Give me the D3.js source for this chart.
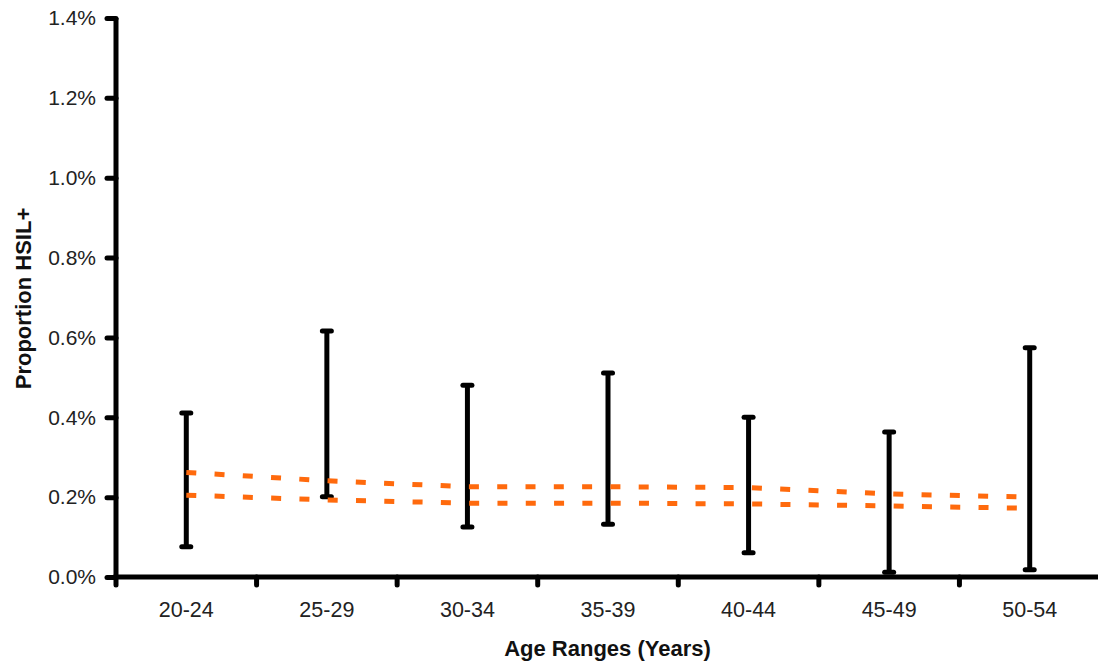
<!DOCTYPE html>
<html>
<head>
<meta charset="utf-8">
<script src="https://cdn.jsdelivr.net/npm/d3@7"></script>
<style>
html,body{margin:0;padding:0;background:#fff;}
svg{display:block;font-family:"Liberation Sans",Arial,sans-serif;}
</style>
</head>
<body>
<svg id="chart" width="1098" height="666"></svg>
<script>
const categories = ["20-24","25-29","30-34","35-39","40-44","45-49","50-54"];
const ciLow  = [0.00076,0.00201,0.00125,0.00132,0.00061,0.00012,0.00018];
const ciHigh = [0.00411,0.00616,0.00480,0.00511,0.00400,0.00363,0.00574];
const upperLine = [0.00262,0.00241,0.00226,0.00226,0.00224,0.00208,0.00200];
const lowerLine = [0.00205,0.00193,0.00185,0.00185,0.00183,0.00178,0.00172];
const yTicks = [0,0.002,0.004,0.006,0.008,0.010,0.012,0.014];

(function () {
const svg = d3.select("#chart");
const mLeft = 116, mRight = 1100, mTop = 18, mBottom = 577;

const x = d3.scaleBand().domain(categories).range([mLeft, mRight]);
const y = d3.scaleLinear().domain([0, 0.014]).range([mBottom, mTop]);
const fmt = d3.format(".1%");

// Y axis
const yAx = svg.append("g").attr("transform", `translate(${mLeft},0)`)
  .call(d3.axisLeft(y).tickValues(yTicks).tickFormat(fmt).tickSize(9).tickPadding(11));
yAx.select(".domain").remove();
yAx.selectAll(".tick line").attr("stroke","#000").attr("stroke-width",5).attr("stroke-linecap","round");
yAx.selectAll(".tick text").attr("fill","#222").style("font-size","21px").style("font-family","Liberation Sans, Arial, sans-serif");

// X axis labels
const xAx = svg.append("g").attr("transform", `translate(0,${mBottom})`)
  .call(d3.axisBottom(x).tickSize(0).tickPadding(25));
xAx.select(".domain").remove();
xAx.selectAll(".tick text").attr("fill","#222").style("font-size","21.5px").style("font-family","Liberation Sans, Arial, sans-serif");

// X tick marks at band boundaries
svg.append("g").selectAll("line").data(categories).join("line")
  .attr("x1", d => x(d)).attr("x2", d => x(d))
  .attr("y1", mBottom).attr("y2", mBottom + 8)
  .attr("stroke","#000").attr("stroke-width",5).attr("stroke-linecap","round");

// Axis lines
svg.append("line").attr("x1", mLeft).attr("x2", mLeft).attr("y1", mTop).attr("y2", mBottom)
  .attr("stroke","#000").attr("stroke-width",5);
svg.append("line").attr("x1", mLeft - 2.5).attr("x2", 1098).attr("y1", mBottom).attr("y2", mBottom)
  .attr("stroke","#000").attr("stroke-width",5);

// Error bars
const eb = svg.append("g");
categories.forEach((c, i) => {
  const cx = x(c) + x.bandwidth() / 2;
  eb.append("line").attr("x1", cx).attr("x2", cx).attr("y1", y(ciLow[i])).attr("y2", y(ciHigh[i]))
    .attr("stroke","#000").attr("stroke-width",5);
  [ciLow[i], ciHigh[i]].forEach(v => {
    eb.append("line").attr("x1", cx - 4.5).attr("x2", cx + 4.5).attr("y1", y(v)).attr("y2", y(v))
      .attr("stroke","#000").attr("stroke-width",5).attr("stroke-linecap","round");
  });
});

// Orange dashed lines
const line = d3.line().x((d, i) => x(categories[i]) + x.bandwidth() / 2).y(d => y(d));
[upperLine, lowerLine].forEach(arr => {
  svg.append("path").attr("d", line(arr)).attr("fill","none")
    .attr("stroke","#FF6A0D").attr("stroke-width",5).attr("stroke-dasharray","10,18.3");
});

// Titles
svg.append("text").attr("x", 607.5).attr("y", 656).attr("text-anchor","middle")
  .style("font-size","22px").style("font-weight","bold").attr("fill","#111")
  .text("Age Ranges (Years)");
svg.append("text").attr("transform","translate(31,298.5) rotate(-90)").attr("text-anchor","middle")
  .style("font-size","22px").style("font-weight","bold").attr("fill","#111")
  .text("Proportion HSIL+");
})();
</script>
</body>
</html>
